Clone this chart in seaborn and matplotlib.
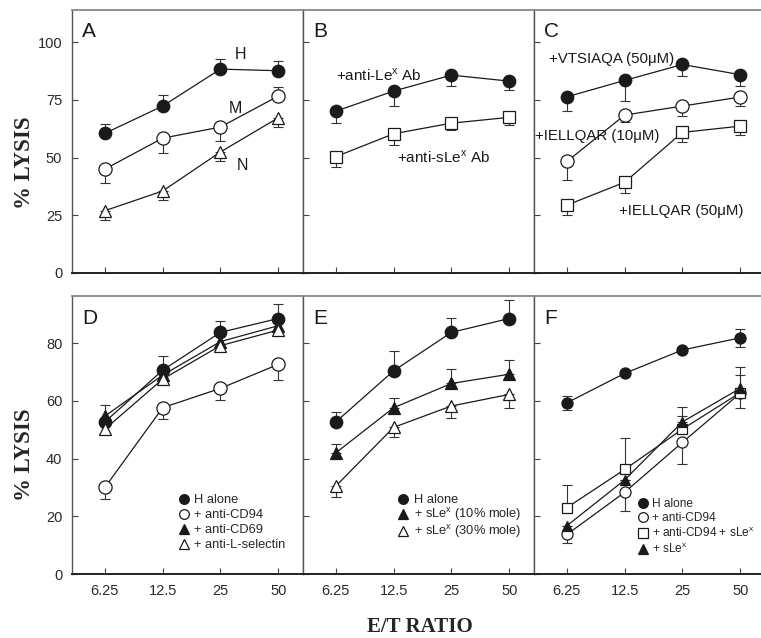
import numpy as np
import matplotlib.pyplot as plt
import seaborn as sns
from matplotlib.lines import Line2D

# E/T ratios on the x axis
ratios = ['6.25', '12.5', '25', '50']

# panel A: NK clones H, M, N (error sign = direction of the bar)
a_h = [60.5, 72.3, 88.3, 87.6]
a_h_err = [4, 5, 4.5, 4]
a_m = [45, 58.4, 63.2, 76.6]
a_m_err = [-6, -6.5, -6, 4]
a_n = [27, 35.5, 52.4, 67.2]
a_n_err = [-4, -4, -4, -4]

# panel B: antibodies
b_lex = [70.1, 78.8, 85.7, 83.1]
b_lex_err = [-5.3, -6.3, -4.7, -4]
b_slex = [50.4, 60.3, 64.9, 67.4]
b_slex_err = [-4.4, -5, -3, -3.2]

# panel C: peptides
c_vts = [76.3, 83.4, 90.3, 85.9]
c_vts_err = [-6, -9, -5, -5]
c_iel10 = [48.3, 68.4, 72.3, 76.2]
c_iel10_err = [-8, -3, -4.3, -4]
c_iel50 = [29.4, 39.3, 60.9, 63.6]
c_iel50_err = [-4.4, -4.8, -4, -3.9]

# panel D
d_h = [52.7, 70.6, 83.7, 88.5]
d_h_err = [6, 5, 4, 5]
d_cd94 = [30, 57.6, 64.3, 72.6]
d_cd94_err = [-4, -4, -4, -5.5]
d_cd69 = [54.7, 68.9, 80.5, 86]
d_lsel = [50.2, 67.5, 79.1, 84.5]

# panel E
e_h = [52.7, 70.4, 83.7, 88.5]
e_h_err = [3.5, 7, 5, 6.5]
e_s10 = [42, 57.6, 66, 69.2]
e_s10_err = [3, 3.5, 5, 5]
e_s30 = [30.5, 50.8, 58.2, 62.2]
e_s30_err = [-3.7, -3.2, -4.3, -4.6]

# panel F
f_h = [59.3, 69.5, 77.6, 81.8]
f_h_err = [2.5, 0, 0, 3]
f_cd94 = [13.7, 28.3, 45.6, 62.6]
f_cd94_err = [-3, -6.4, -7.5, -5]
f_cd94s = [23, 36.2, 50.2, 62.8]
f_cd94s_err = [7.8, 10.8, 7.8, 9]
f_slex = [16.7, 32.6, 52.7, 64.3]
f_slex_err = [0, 0, 2, 4.6]

sns.set_style('ticks')
plt.rcParams['font.family'] = ['Liberation Sans', 'DejaVu Sans']

fig = plt.figure(figsize=(7.61, 6.38), dpi=100)
w = 231 / 761
x0 = 72 / 761
top_b, top_h = 1 - 273 / 638, 263 / 638
bot_b, bot_h = 1 - 574 / 638, 278 / 638
axes_top = [fig.add_axes([x0 + i * w, top_b, w, top_h]) for i in range(3)]
axes_bot = [fig.add_axes([x0 + i * w, bot_b, w, bot_h]) for i in range(3)]

xs = np.arange(len(ratios))
ink = '#1a1a1a'

styles = {
    'fc': dict(marker='o', mfc=ink, ms=9),
    'oc': dict(marker='o', mfc='white', ms=9.5),
    'ft': dict(marker='^', mfc=ink, ms=8),
    'ot': dict(marker='^', mfc='white', ms=8),
    'sq': dict(marker='s', mfc='white', ms=8),
}


def series(ax, vals, style, err=None, both=False, ms=None):
    st = styles[style]
    size = ms if ms else st['ms']
    if err is not None:
        e = np.array(err, dtype=float)
        hi = np.where(e > 0, e, 0)
        lo = np.where(e < 0, -e, 0)
        if both:
            lo = np.abs(e)
        ax.errorbar(xs, vals, yerr=[lo, hi], fmt='none', ecolor='#333333',
                    elinewidth=0.8, capsize=3.5, capthick=0.8, zorder=2)
    sns.lineplot(x=xs, y=vals, ax=ax, color=ink, linewidth=0.9,
                 marker=st['marker'], markersize=size,
                 markerfacecolor=st['mfc'], markeredgecolor=ink,
                 markeredgewidth=0.9, zorder=3)


# top row
ax = axes_top[0]
series(ax, a_h, 'fc', a_h_err)
series(ax, a_m, 'oc', a_m_err)
series(ax, a_n, 'ot', a_n_err)
ax.text(2.24, 92.6, 'H', fontsize=11.5, color=ink)
ax.text(2.14, 69.3, 'M', fontsize=11.5, color=ink)
ax.text(2.28, 44.6, 'N', fontsize=11.5, color=ink)

ax = axes_top[1]
series(ax, b_lex, 'fc', b_lex_err)
series(ax, b_slex, 'sq', b_slex_err)
ax.text(0.0, 83.5, r'+anti-Le$^\mathregular{x}$ Ab', fontsize=11, color=ink)
ax.text(1.06, 48, r'+anti-sLe$^\mathregular{x}$ Ab', fontsize=11, color=ink)

ax = axes_top[2]
series(ax, c_vts, 'fc', c_vts_err)
series(ax, c_iel10, 'oc', c_iel10_err)
series(ax, c_iel50, 'sq', c_iel50_err)
ax.text(-0.31, 90.9, '+VTSIAQA (50μM)', fontsize=10.8, color=ink)
ax.text(-0.56, 57.6, '+IELLQAR (10μM)', fontsize=10.8, color=ink)
ax.text(0.9, 25, '+IELLQAR (50μM)', fontsize=10.8, color=ink)

# bottom row
ax = axes_bot[0]
series(ax, d_h, 'fc', d_h_err)
series(ax, d_cd94, 'oc', d_cd94_err)
series(ax, d_cd69, 'ft')
series(ax, d_lsel, 'ot')

ax = axes_bot[1]
series(ax, e_h, 'fc', e_h_err)
series(ax, e_s10, 'ft', e_s10_err)
series(ax, e_s30, 'ot', e_s30_err)

ax = axes_bot[2]
series(ax, f_h, 'fc', f_h_err, both=True, ms=8)
series(ax, f_cd94, 'oc', f_cd94_err, ms=8)
series(ax, f_cd94s, 'sq', f_cd94s_err, ms=7.5)
series(ax, f_slex, 'ft', f_slex_err, ms=7)

legends = [
    (axes_bot[0], [('fc', 'H alone'), ('oc', '+ anti-CD94'),
                   ('ft', '+ anti-CD69'), ('ot', '+ anti-L-selectin')],
     (0.44, 0.305), 0.22, 9.3),
    (axes_bot[1], [('fc', 'H alone'), ('ft', r'+ sLe$^\mathregular{x}$ (10% mole)'),
                   ('ot', r'+ sLe$^\mathregular{x}$ (30% mole)')],
     (0.39, 0.305), 0.0, 9.3),
    (axes_bot[2], [('fc', 'H alone'), ('oc', '+ anti-CD94'),
                   ('sq', r'+ anti-CD94 + sLe$^\mathregular{x}$'),
                   ('ft', r'+ sLe$^\mathregular{x}$')],
     (0.43, 0.29), 0.18, 8.6),
]
for lax, items, anchor, spacing, fsize in legends:
    handles = [Line2D([], [], linestyle='none', marker=styles[s]['marker'],
                      markersize=7, markerfacecolor=styles[s]['mfc'],
                      markeredgecolor=ink, markeredgewidth=0.9, label=t)
               for s, t in items]
    lax.legend(handles=handles, loc='upper left', bbox_to_anchor=anchor,
               frameon=False, fontsize=fsize, handlelength=0.8,
               handletextpad=0.4, labelspacing=spacing, borderaxespad=0)

for i, (ax, letter) in enumerate(zip(axes_top + axes_bot, 'ABCDEF')):
    top = i < 3
    ax.set_xlim(-0.57, 3.43)
    ax.set_xticks(xs)
    if top:
        ax.set_ylim(0, 113.9)
        ax.set_yticks([0, 25, 50, 75, 100])
        ax.set_xticklabels([])
    else:
        ax.set_ylim(0, 96.3)
        ax.set_yticks([0, 20, 40, 60, 80])
        ax.set_xticklabels(ratios)
    ax.tick_params(direction='in', length=4, width=0.8, colors='#444444',
                   labelcolor='#2a2a2a', labelsize=10.5, left=True,
                   right=False, pad=7)
    if i % 3 != 0:
        ax.set_yticklabels([])
    ax.set_xlabel('')
    ax.set_ylabel('')
    for name, sp in ax.spines.items():
        sp.set_visible(True)
        sp.set_linewidth(1.0)
        sp.set_color('#555555')
    ax.spines['top'].set_color('#888888')
    ax.spines['top'].set_linewidth(1.3)
    ax.spines['bottom'].set_linewidth(1.4)
    ax.spines['bottom'].set_color('#222222')
    if i % 3 == 2:
        ax.spines['right'].set_visible(False)
    ax.text(0.045, 0.955, letter, transform=ax.transAxes, fontsize=15,
            color=ink, va='top', ha='left')

serif = ['Liberation Serif', 'DejaVu Serif']
fig.text(25 / 761, 1 - 163 / 638, '% LYSIS', rotation=90, ha='center',
         va='center', fontsize=16.5, fontweight='bold', family=serif)
fig.text(25 / 761, 1 - 455 / 638, '% LYSIS', rotation=90, ha='center',
         va='center', fontsize=16.5, fontweight='bold', family=serif)
fig.text(420 / 761, 1 - 627 / 638, 'E/T RATIO', ha='center', va='center',
         fontsize=15, fontweight='bold', family=serif)

fig.savefig('out.png', dpi=100)
